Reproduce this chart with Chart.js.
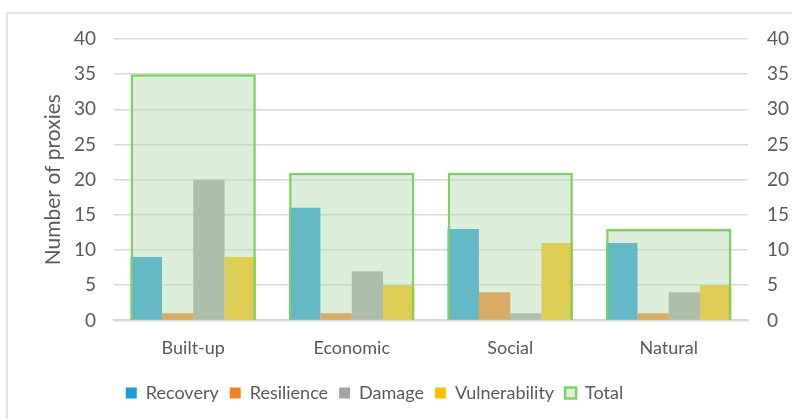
<!DOCTYPE html>
<html>
<head>
<meta charset="utf-8">
<script src="https://cdn.jsdelivr.net/npm/chart.js@4"></script>
<style>
    html, body { margin: 0; padding: 0; background: #fff; overflow: hidden; }
    #wrap { position: relative; width: 792px; height: 419px; }
    #frame { position: absolute; left: 6px; top: 12px; width: 800px; height: 420px; border: 2px solid #e3e3e3; box-sizing: border-box; }
    canvas { position: absolute; left: 0; top: 0; }
</style>
</head>
<body>
<div id="wrap">
    <div id="frame"></div>
    <canvas id="proxyChart" width="792" height="419"></canvas>
</div>
<script>
// 데이터
const categories = ['Built-up', 'Economic', 'Social', 'Natural'];
const recovery = [9, 16, 13, 11];
const resilience = [1, 1, 4, 1];
const damage = [20, 7, 1, 4];
const vulnerability = [9, 5, 11, 5];
const total = [35, 21, 21, 13];
const axisMin = 0, axisMax = 40, axisStep = 5;

const FONT = 'Lato, "Open Sans", sans-serif';
const TEXT = '#595959';
const GRID = '#d9d9d9';

// 범례 위치를 왼쪽으로 옮기는 플러그인
const legendShift = {
    id: 'legendShift',
    beforeDraw(chart) {
        const lg = chart.legend;
        if (lg && !lg._shifted) {
            lg.left -= 42;
            lg.right -= 42;
            lg._shifted = true;
        }
    }
};

function barSet(label, data, color) {
    return {
        label: label,
        data: data,
        backgroundColor: color,
        borderWidth: 0,
        xAxisID: 'x',
        yAxisID: 'y',
        order: 1,
        categoryPercentage: 0.79,
        barPercentage: 1
    };
}

const ctx = document.getElementById('proxyChart').getContext('2d');
new Chart(ctx, {
    type: 'bar',
    data: {
        labels: categories,
        datasets: [
            barSet('Recovery', recovery, '#1e9bd7'),
            barSet('Resilience', resilience, '#f58220'),
            barSet('Damage', damage, '#a5a5a5'),
            barSet('Vulnerability', vulnerability, '#ffc000'),
            {
                // Total: 반투명 초록 박스를 위에 덮음 (그룹에서 제외)
                label: 'Total',
                data: total,
                backgroundColor: 'rgba(183,219,179,0.47)',
                borderColor: 'rgb(125,210,95)',
                borderWidth: 2.5,
                xAxisID: 'x',
                yAxisID: 'y1',
                order: 0,
                grouped: false,
                categoryPercentage: 0.79,
                barPercentage: 1
            }
        ]
    },
    options: {
        responsive: false,
        animation: false,
        layout: { padding: { top: 39, left: 41, right: 0, bottom: 7 } },
        plugins: {
            legend: {
                position: 'bottom',
                labels: {
                    boxWidth: 11,
                    boxHeight: 11,
                    padding: 11,
                    color: TEXT,
                    font: { family: FONT, size: 18 },
                    sort: (a, b) => a.datasetIndex - b.datasetIndex
                }
            },
            tooltip: { enabled: false }
        },
        scales: {
            x: {
                offset: true,
                grid: { display: false },
                border: { display: true, color: GRID, width: 2 },
                ticks: { color: TEXT, padding: 9, font: { family: FONT, size: 18 } },
                afterFit(scale) { scale.height += 5; }
            },
            y: {
                position: 'left',
                min: axisMin,
                max: axisMax,
                ticks: { stepSize: axisStep, color: TEXT, padding: 18, font: { family: FONT, size: 19 } },
                grid: { color: GRID, lineWidth: 1.5, drawTicks: false },
                border: { display: false },
                title: {
                    display: true,
                    text: 'Number of proxies',
                    color: TEXT,
                    padding: { top: 0, bottom: 0 },
                    font: { family: FONT, size: 21 }
                },
                afterFit(scale) { scale.width = 73; }
            },
            y1: {
                position: 'right',
                min: axisMin,
                max: axisMax,
                ticks: { stepSize: axisStep, color: TEXT, padding: 19, font: { family: FONT, size: 19 } },
                grid: { drawOnChartArea: false, drawTicks: false },
                border: { display: false },
                afterFit(scale) { scale.width = 44; }
            }
        }
    },
    plugins: [legendShift]
});
</script>
</body>
</html>
